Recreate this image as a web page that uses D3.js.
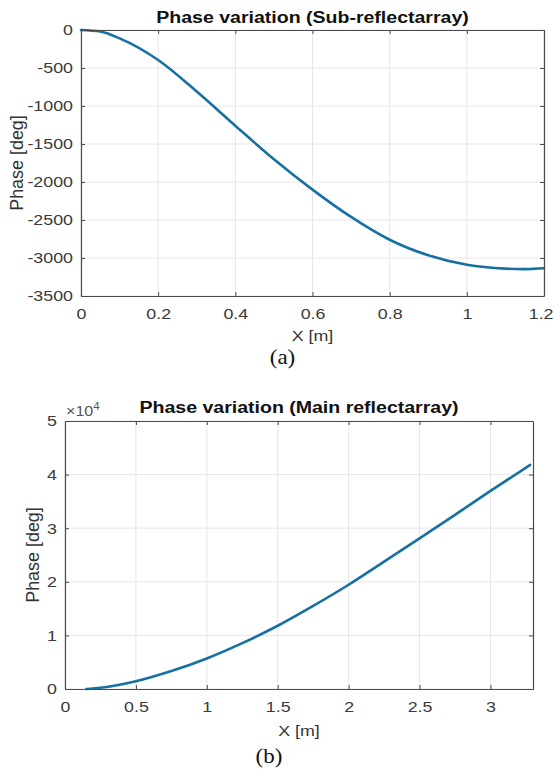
<!DOCTYPE html>
<html>
<head>
<meta charset="utf-8">
<script src="https://cdn.jsdelivr.net/npm/d3@7"></script>
<style>
  html, body { margin: 0; padding: 0; background: #fff; }
  svg { display: block; }
</style>
</head>
<body>
<svg id="chart" width="555" height="771"></svg>
<script>
// ---- Data: (a) Sub-reflectarray ----
const xSub = [0, 0.05, 0.1, 0.2, 0.3, 0.4, 0.5, 0.6, 0.7, 0.8, 0.9, 1.0, 1.1, 1.15, 1.2];
const phaseSub = [0, -20, -110, -395, -810, -1260, -1700, -2100, -2460, -2760, -2965, -3090, -3140, -3146, -3135];
const xTicksA = [0, 0.2, 0.4, 0.6, 0.8, 1, 1.2];
const xTickLabelsA = ["0", "0.2", "0.4", "0.6", "0.8", "1", "1.2"];
const yTicksA = [0, -500, -1000, -1500, -2000, -2500, -3000, -3500];
const yTickLabelsA = ["0", "-500", "-1000", "-1500", "-2000", "-2500", "-3000", "-3500"];

// ---- Data: (b) Main reflectarray ----
const xMain = [0.15, 0.25, 0.5, 0.75, 1.0, 1.25, 1.5, 1.75, 2.0, 2.25, 2.5, 2.75, 3.0, 3.28];
const phaseMain = [0, 230, 1450, 3350, 5700, 8550, 11800, 15500, 19450, 23750, 28100, 32500, 36950, 41800];
const xTicksB = [0, 0.5, 1, 1.5, 2, 2.5, 3];
const xTickLabelsB = ["0", "0.5", "1", "1.5", "2", "2.5", "3"];
const yTicksB = [0, 10000, 20000, 30000, 40000, 50000];
const yTickLabelsB = ["0", "1", "2", "3", "4", "5"];

const titles = ["Phase variation (Sub-reflectarray)", "Phase variation (Main reflectarray)"];
const captions = ["(a)", "(b)"];

const svg = d3.select("#chart");
const SX = 1.15; // horizontal stretch of the source image text
const FONT = "'Liberation Sans', Arial, sans-serif";
const AXIS_COLOR = "#4a4a4a";
const TICK_TEXT = "#3a3a3a";
const GRID = "#e6e6e6";
const LINE = "#1670a2";
const W = 555;

function stext(g, x, y, str, o) {
  return g.append("text")
    .attr("transform", `translate(${x},${y}) scale(${SX},1)`)
    .attr("text-anchor", o.anchor || "middle")
    .attr("dominant-baseline", "central")
    .style("font-family", o.family || FONT)
    .style("font-size", o.size + "px")
    .style("font-weight", o.weight || "normal")
    .attr("fill", o.fill || "#000")
    .text(str);
}

function panel(cfg) {
  const { left, right, top, bottom, xDomain, yDomain, xTicks, xLabels, yTicks, yLabels, xs, ys, title, titleY, caption, captionY, xLabelY, yLabelX } = cfg;
  const x = d3.scaleLinear().domain(xDomain).range([left, right]);
  const y = d3.scaleLinear().domain(yDomain).range([bottom, top]);
  const g = svg.append("g");

  // grid
  g.append("g").selectAll("line").data(xTicks).join("line")
    .attr("x1", d => x(d)).attr("x2", d => x(d)).attr("y1", top).attr("y2", bottom)
    .attr("stroke", GRID).attr("stroke-width", 1);
  g.append("g").selectAll("line").data(yTicks).join("line")
    .attr("y1", d => y(d)).attr("y2", d => y(d)).attr("x1", left).attr("x2", right)
    .attr("stroke", GRID).attr("stroke-width", 1);

  // data line
  const pts = xs.map((v, i) => [v, ys[i]]);
  g.append("path").datum(pts)
    .attr("d", d3.line().x(d => x(d[0])).y(d => y(d[1])).curve(d3.curveMonotoneX))
    .attr("fill", "none").attr("stroke", LINE).attr("stroke-width", 2.6)
    .attr("stroke-linecap", "round");

  // axes
  const style = sel => {
    sel.select(".domain").attr("stroke", AXIS_COLOR).attr("stroke-width", 1.2);
    sel.selectAll(".tick line").attr("stroke", AXIS_COLOR).attr("stroke-width", 1);
    sel.selectAll("text").style("font-family", FONT).style("font-size", "15.5px").attr("fill", TICK_TEXT);
  };
  const bottomAx = g.append("g").attr("transform", `translate(0,${bottom})`)
    .call(d3.axisBottom(x).tickValues(xTicks).tickFormat((d, i) => xLabels[i]).tickSizeInner(-4).tickSizeOuter(0).tickPadding(12))
    .call(style);
  bottomAx.selectAll("text").attr("transform", `scale(${SX},1)`);
  // keep the last tick label inside the window
  bottomAx.selectAll(".tick").each(function (d) {
    const t = d3.select(this).select("text");
    const w = this.querySelector("text").getComputedTextLength() * SX;
    const over = x(d) + w / 2 - (W - 2);
    if (over > 0) t.attr("x", -over / SX);
  });
  const leftAx = g.append("g").attr("transform", `translate(${left},0)`)
    .call(d3.axisLeft(y).tickValues(yTicks).tickFormat((d, i) => yLabels[i]).tickSizeInner(-4).tickSizeOuter(0).tickPadding(7))
    .call(style);
  leftAx.selectAll("text").attr("transform", `scale(${SX},1)`);
  g.append("g").attr("transform", `translate(0,${top})`)
    .call(d3.axisTop(x).tickValues(xTicks).tickFormat("").tickSizeInner(-4).tickSizeOuter(0))
    .call(style);
  g.append("g").attr("transform", `translate(${right},0)`)
    .call(d3.axisRight(y).tickValues(yTicks).tickFormat("").tickSizeInner(-4).tickSizeOuter(0))
    .call(style);

  // title
  stext(g, (left + right) / 2, titleY, title, { size: 17, weight: "bold", fill: "#111" });
  // x label
  stext(g, (left + right) / 2, xLabelY, "X [m]", { size: 15.5, fill: "#333" });
  // y label
  g.append("text")
    .attr("transform", `translate(${yLabelX},${(top + bottom) / 2}) rotate(-90) scale(1.12,${SX})`)
    .attr("text-anchor", "middle").attr("dominant-baseline", "central")
    .style("font-family", FONT).style("font-size", "16px").attr("fill", "#333")
    .text("Phase [deg]");
  // caption
  stext(g, (left + right) / 2 - 30, captionY, caption, { size: 20, family: "'Liberation Serif', 'Times New Roman', serif", fill: "#111" });
  return g;
}

panel({
  left: 81, right: 544, top: 30, bottom: 296,
  xDomain: [0, 1.2], yDomain: [-3500, 0],
  xTicks: xTicksA, xLabels: xTickLabelsA, yTicks: yTicksA, yLabels: yTickLabelsA,
  xs: xSub, ys: phaseSub, title: titles[0], titleY: 17,
  caption: captions[0], captionY: 358, xLabelY: 336, yLabelX: 17
});

const gb = panel({
  left: 65, right: 533, top: 421, bottom: 689,
  xDomain: [0, 3.3], yDomain: [0, 50000],
  xTicks: xTicksB, xLabels: xTickLabelsB, yTicks: yTicksB, yLabels: yTickLabelsB,
  xs: xMain, ys: phaseMain, title: titles[1], titleY: 407,
  caption: captions[1], captionY: 757, xLabelY: 731, yLabelX: 33
});

// exponent label ×10^4
const ex = gb.append("text")
  .attr("transform", `translate(66,416) scale(${SX},1)`)
  .style("font-family", FONT).style("font-size", "14px").attr("fill", "#555");
ex.append("tspan").text("\u00d710");
ex.append("tspan").attr("dy", -6).style("font-size", "10px").text("4");
</script>
</body>
</html>
